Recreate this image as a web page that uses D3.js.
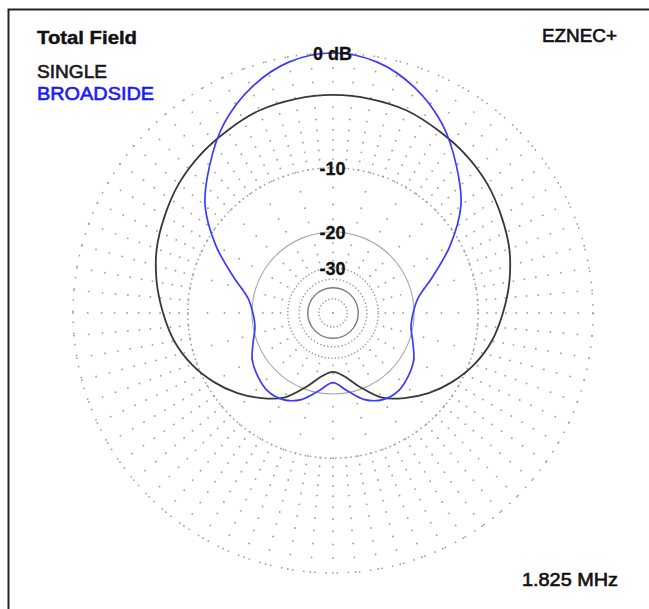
<!DOCTYPE html>
<html><head><meta charset="utf-8">
<script src="https://cdn.jsdelivr.net/npm/d3@7"></script>
<style>body{margin:0;background:#fff}svg{display:block}</style>
</head><body>
<svg id="c" width="649" height="609"></svg>
<script>
// ---- data (azimuth deg from forward, gain dB; pattern symmetric about the 0-180 axis)
const angles      = [0, 10, 20, 30, 40, 50, 60, 70, 80, 90, 100, 110, 120, 130, 140, 150, 160, 170, 180];
const singleDb    = [-3.02, -3.08, -3.22, -3.6, -3.95, -4.4, -5.0, -5.6, -6.4, -7.3, -8.2, -9.4, -10.9, -12.6, -14.6, -16.8, -20.5, -24.0, -25.5];
const broadsideDb = [0, -0.35, -1.4, -3.0, -5.2, -7.6, -11.2, -15.4, -18.9, -20.2, -20.4, -19.2, -17.6, -16.7, -16.1, -16.4, -17.8, -20.5, -22.6];
const seriesNames = ["SINGLE", "BROADSIDE"];
const ringLabels  = ["0 dB", "-10", "-20", "-30"];
const ringLabelDb = [0, -10, -20, -30];
const dottedRingDb = [0, -10, -30, -35, -50];
const solidRingDb  = [-20, -40];
const spokeDbOuter = [0, -1, -2, -3, -4, -5, -6, -7, -8, -9, -10];
const spokeDbInner = [-12.5, -15, -17.5, -22.5, -25, -27.5];
const titleText = "Total Field", brandText = "EZNEC+", freqText = "1.825 MHz";

// ---- layout
const cx = 333, cy = 313, R = 260;
const svg = d3.select("#c");
// ARRL log scale: 0.89 per 2 dB  ->  r ~ amplitude^0.5061
const rScale = d3.scalePow().exponent(-Math.log(0.89) / 2 * 20 / Math.LN10).domain([0, 1]).range([0, R]);
const rad = db => rScale(Math.pow(10, db / 20));

// frame (only left & top visible)
svg.append("rect").attr("x", 8.5).attr("y", 9.5).attr("width", 700).attr("height", 700)
  .attr("fill", "none").attr("stroke", "#222").attr("stroke-width", 2);

const g = svg.append("g").attr("transform", `translate(${cx},${cy})`);

// dotted rings
const ringDash = {"0": "1.5,9.7", "-10": "1.5,3.6", "-30": "1.3,2.1", "-35": "1.3,2.3", "-50": "1.3,2.1"};
g.selectAll("circle.dr").data(dottedRingDb).join("circle").attr("class", "dr")
  .attr("r", d => rad(d)).attr("fill", "none").attr("stroke", "#9a9a9a").attr("stroke-width", 1.5)
  .attr("stroke-dasharray", d => ringDash[String(d)]);
g.selectAll("circle.sr").data(solidRingDb).join("circle").attr("class", "sr")
  .attr("r", d => rad(d)).attr("fill", "none")
  .attr("stroke", d => d === -20 ? "#a8a8a8" : "#7a7a7a").attr("stroke-width", d => d === -20 ? 1.1 : 1.4);

// spoke dots
const dots = [];
d3.range(0, 360, 5).forEach(a => spokeDbOuter.forEach(db => dots.push([a, db])));
d3.range(0, 360, 15).forEach(a => spokeDbInner.forEach(db => dots.push([a, db])));
g.selectAll("circle.dot").data(dots).join("circle").attr("class", "dot")
  .attr("cx", d => rad(d[1]) * Math.sin(d[0] * Math.PI / 180))
  .attr("cy", d => -rad(d[1]) * Math.cos(d[0] * Math.PI / 180))
  .attr("r", 0.95).attr("fill", "#a2a2a2");
g.append("circle").attr("r", 1.1).attr("fill", "#999");

// patterns
function full(vals) {
  const pts = angles.map((a, i) => ({a, db: vals[i]}));
  for (let i = angles.length - 2; i > 0; i--) pts.push({a: 360 - angles[i], db: vals[i]});
  return pts;
}
const line = d3.lineRadial().angle(d => d.a * Math.PI / 180).radius(d => rad(d.db))
  .curve(d3.curveCatmullRomClosed.alpha(0.5));
g.append("path").datum(full(singleDb)).attr("d", line)
  .attr("fill", "none").attr("stroke", "#383838").attr("stroke-width", 1.8);
g.append("path").datum(full(broadsideDb)).attr("d", line)
  .attr("fill", "none").attr("stroke", "#3b3bff").attr("stroke-width", 1.7);

// ring labels
const font = "Liberation Sans, Arial, sans-serif";
g.selectAll("text.rl").data(ringLabelDb).join("text").attr("class", "rl")
  .attr("x", -0.5).attr("y", d => -rad(d) + 7)
  .attr("text-anchor", "middle").attr("font-family", font)
  .attr("font-size", 18).attr("font-weight", "bold").attr("fill", "#111")
  .attr("stroke", "#111").attr("stroke-width", 0.3)
  .text((d, i) => ringLabels[i]);

// texts
svg.append("text").attr("x", 37).attr("y", 44).attr("font-family", font).attr("font-size", 18)
  .attr("font-weight", "bold").attr("fill", "#111").attr("stroke", "#111").attr("stroke-width", 0.4)
  .attr("textLength", 100).attr("lengthAdjust", "spacingAndGlyphs").text(titleText);
const legColors = ["#1a1a1a", "#1a1aff"];
svg.selectAll("text.leg").data(seriesNames).join("text").attr("class", "leg")
  .attr("x", 37).attr("y", (d, i) => 78 + i * 22).attr("font-family", font).attr("font-size", 18)
  .attr("fill", (d, i) => legColors[i]).attr("stroke", (d, i) => legColors[i]).attr("stroke-width", 0.6)
  .attr("textLength", (d, i) => i ? 117 : 70)
  .attr("lengthAdjust", "spacingAndGlyphs").text(d => d);
svg.append("text").attr("x", 617).attr("y", 42).attr("text-anchor", "end").attr("font-family", font)
  .attr("font-size", 18).attr("fill", "#111").attr("stroke", "#111").attr("stroke-width", 0.6)
  .attr("textLength", 75).attr("lengthAdjust", "spacingAndGlyphs").text(brandText);
svg.append("text").attr("x", 618).attr("y", 586).attr("text-anchor", "end").attr("font-family", font)
  .attr("font-size", 18).attr("fill", "#111").attr("stroke", "#111").attr("stroke-width", 0.6)
  .attr("textLength", 96).attr("lengthAdjust", "spacingAndGlyphs").text(freqText);
</script>
</body></html>
